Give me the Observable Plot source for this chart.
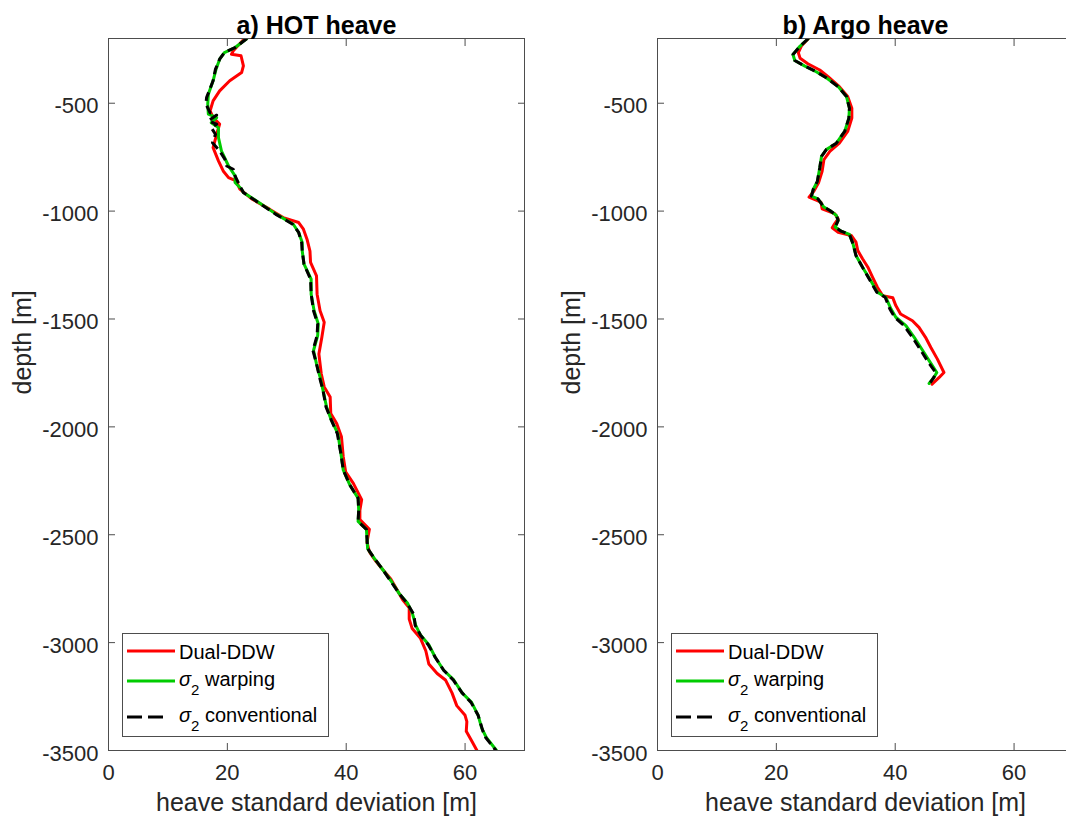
<!DOCTYPE html>
<html>
<head>
<meta charset="utf-8">
<script src="https://cdn.jsdelivr.net/npm/d3@7"></script>
<script src="https://cdn.jsdelivr.net/npm/@observablehq/plot@0.6"></script>
<style>
  html, body { margin: 0; padding: 0; background: #fff; }
  #wrap { position: relative; width: 1066px; height: 825px; overflow: hidden; background: #fff; }
  .panel { position: absolute; top: 0; width: 540px; height: 825px; }
  .panel svg { max-width: none !important; width: 540px; height: 825px; }
  .legend { position: absolute; top: 633px; width: 207px; height: 104px; }
</style>
</head>
<body>
<div id="wrap">
  <div id="p1" class="panel" style="left:0px"></div>
  <div id="p2" class="panel" style="left:549px"></div>
  <div id="l1" class="legend" style="left:122px"></div>
  <div id="l2" class="legend" style="left:671px"></div>
</div>
<script>
// ---------------- data: [depth (m), heave standard deviation (m)] ----------------
const hotDualDDW = [[-200,22.9],[-257,21.0],[-273,20.7],[-280,22.3],[-327,22.7],[-358,22.4],[-396,20.4],[-443,18.7],[-489,17.6],[-535,17.1],[-567,17.6],[-597,18.7],[-644,18.2],[-706,17.6],[-767,18.5],[-814,19.3],[-845,20.2],[-860,21.5],[-898,22.1],[-945,24.2],[-991,27.1],[-1030,29.4],[-1053,32.0],[-1084,32.8],[-1130,33.4],[-1185,33.9],[-1238,34.0],[-1300,35.0],[-1385,35.1],[-1462,35.6],[-1515,36.3],[-1585,35.9],[-1662,35.4],[-1754,35.8],[-1815,36.3],[-1862,37.3],[-1938,37.4],[-1985,38.4],[-2046,39.2],[-2138,39.5],[-2208,39.9],[-2262,41.2],[-2338,42.6],[-2386,42.3],[-2430,42.3],[-2475,43.9],[-2534,43.5],[-2579,43.9],[-2623,45.0],[-2660,46.1],[-2705,47.5],[-2757,48.6],[-2802,49.5],[-2839,50.6],[-2891,50.6],[-2935,51.1],[-2980,52.5],[-3039,53.4],[-3099,53.9],[-3143,55.3],[-3173,56.7],[-3233,57.8],[-3292,58.6],[-3337,60.0],[-3366,60.3],[-3411,60.2],[-3455,61.1],[-3500,62.0]];
const hotSigma2Warping = [[-200,23.3],[-242,21.3],[-265,19.5],[-296,18.7],[-342,18.1],[-396,17.6],[-458,16.8],[-504,16.7],[-551,16.8],[-567,18.2],[-590,17.3],[-613,18.5],[-659,18.5],[-721,19.0],[-791,20.2],[-837,21.3],[-867,21.3],[-899,22.4],[-914,22.7],[-960,25.3],[-1014,28.2],[-1061,31.1],[-1099,32.0],[-1146,32.6],[-1185,32.6],[-1246,32.9],[-1315,34.1],[-1385,34.1],[-1462,34.6],[-1523,35.3],[-1577,35.2],[-1646,34.5],[-1708,35.0],[-1769,35.6],[-1831,36.1],[-1908,36.7],[-1969,37.5],[-2031,38.6],[-2123,39.1],[-2200,39.5],[-2269,40.6],[-2331,42.0],[-2386,42.1],[-2438,42.0],[-2475,43.4],[-2564,43.6],[-2608,44.7],[-2660,46.1],[-2712,47.5],[-2772,48.9],[-2816,50.3],[-2861,51.1],[-2920,51.7],[-2965,52.5],[-3010,53.9],[-3069,55.0],[-3128,56.4],[-3173,58.1],[-3233,59.5],[-3277,61.1],[-3337,62.2],[-3396,62.8],[-3441,63.6],[-3500,65.3]];
const hotSigma2Conventional = [[-200,23.3],[-242,21.3],[-265,19.5],[-296,18.7],[-342,18.0],[-396,17.6],[-474,16.5],[-504,16.4],[-545,17.1],[-555,18.2],[-582,16.8],[-597,18.2],[-613,17.3],[-644,18.0],[-683,17.5],[-721,18.7],[-760,19.6],[-791,19.9],[-806,21.0],[-837,21.3],[-883,22.1],[-914,22.7],[-960,25.2],[-1014,28.1],[-1061,31.0],[-1099,32.0],[-1146,32.5],[-1185,32.6],[-1246,32.9],[-1315,34.0],[-1385,34.1],[-1462,34.5],[-1523,35.2],[-1577,35.1],[-1646,34.4],[-1708,35.0],[-1769,35.5],[-1831,36.1],[-1908,36.6],[-1969,37.5],[-2031,38.5],[-2123,39.1],[-2200,39.5],[-2269,40.6],[-2331,42.0],[-2386,42.1],[-2438,42.0],[-2475,43.4],[-2564,43.6],[-2608,44.7],[-2660,46.1],[-2712,47.4],[-2772,48.9],[-2816,50.2],[-2870,51.4],[-2920,51.6],[-2965,52.5],[-3010,53.8],[-3069,55.0],[-3128,56.4],[-3173,58.0],[-3233,59.5],[-3277,61.0],[-3337,62.2],[-3410,63.0],[-3441,63.5],[-3500,65.2]];

const argoDualDDW = [[-200,25.4],[-235,24.2],[-266,23.7],[-292,24.0],[-317,25.3],[-346,27.3],[-377,28.7],[-423,30.6],[-469,32.0],[-523,32.7],[-569,32.7],[-631,32.0],[-685,30.6],[-723,29.0],[-762,28.0],[-815,27.7],[-869,27.1],[-908,26.3],[-935,25.5],[-947,26.5],[-958,27.5],[-989,27.7],[-1000,28.7],[-1012,29.8],[-1036,30.4],[-1059,29.8],[-1077,29.4],[-1098,30.4],[-1113,32.6],[-1144,33.4],[-1183,33.7],[-1221,34.5],[-1260,35.4],[-1307,36.2],[-1353,37.0],[-1392,37.9],[-1402,39.6],[-1438,40.1],[-1477,40.9],[-1508,42.9],[-1539,44.0],[-1585,45.1],[-1632,46.0],[-1686,47.1],[-1748,48.2],[-1771,47.4],[-1802,46.2]];
const argoSigma2Warping = [[-200,25.4],[-235,24.0],[-274,22.8],[-302,23.1],[-328,24.8],[-354,26.7],[-382,28.4],[-423,30.4],[-469,31.8],[-523,32.3],[-569,32.2],[-631,31.5],[-685,30.1],[-715,28.4],[-746,27.6],[-800,27.3],[-862,26.9],[-900,26.2],[-931,25.9],[-943,27.0],[-981,28.0],[-997,29.0],[-1020,30.1],[-1043,30.4],[-1074,29.9],[-1093,30.9],[-1108,32.3],[-1152,32.9],[-1206,33.4],[-1260,34.5],[-1314,35.7],[-1376,37.0],[-1399,38.4],[-1454,39.3],[-1492,40.1],[-1531,41.8],[-1585,43.2],[-1632,44.3],[-1693,45.7],[-1748,47.0],[-1771,46.5],[-1799,45.7]];
const argoSigma2Conventional = [[-200,25.4],[-235,24.0],[-274,22.8],[-302,23.1],[-328,24.8],[-354,26.7],[-382,28.4],[-423,30.4],[-469,31.8],[-523,32.3],[-569,32.2],[-631,31.5],[-685,30.1],[-715,28.4],[-746,27.6],[-800,27.3],[-862,26.9],[-900,26.2],[-931,25.9],[-943,27.0],[-981,28.0],[-997,29.0],[-1020,30.1],[-1043,30.4],[-1074,29.9],[-1093,30.9],[-1108,32.3],[-1152,32.9],[-1206,33.4],[-1260,34.5],[-1314,35.6],[-1376,36.9],[-1399,38.3],[-1454,39.1],[-1492,39.9],[-1531,41.5],[-1585,42.9],[-1632,44.0],[-1693,45.4],[-1748,46.8],[-1771,46.5],[-1795,45.9]];

// ---------------- axes / text ----------------
const xDomain = [0, 70];
const yDomain = [-3500, -200];
const xTicks = [0, 20, 40, 60];
const yTicks = [-3500, -3000, -2500, -2000, -1500, -1000, -500];
const panelTitles = ["a) HOT heave", "b) Argo heave"];
const xLabel = "heave standard deviation [m]";
const yLabel = "depth [m]";
const seriesNames = ["Dual-DDW", "warping", "conventional"];

const RED = "#ff0000", GREEN = "#00cc00", BLACK = "#000000";
const AXIS = "#4d4d4d", TEXT = "#262626";
const FONT = '"Liberation Sans", Arial, Helvetica, sans-serif';

function panel(title, dual, warp, conv) {
  const X = d => d[1], Y = d => d[0];
  return Plot.plot({
    width: 540, height: 825,
    marginLeft: 108, marginRight: 16, marginTop: 38, marginBottom: 75,
    style: {fontFamily: FONT, fontSize: "22px", color: TEXT, background: "transparent", overflow: "visible", maxWidth: "none"},
    x: {domain: xDomain, axis: null},
    y: {domain: yDomain, axis: null},
    marks: [
      Plot.line(dual, {x: X, y: Y, stroke: RED, strokeWidth: 3, clip: true}),
      Plot.line(warp, {x: X, y: Y, stroke: GREEN, strokeWidth: 3, clip: true}),
      Plot.line(conv, {x: X, y: Y, stroke: BLACK, strokeWidth: 3, strokeDasharray: "9,5", strokeLinecap: "butt", clip: true}),
      Plot.frame({stroke: AXIS, strokeWidth: 1}),
      Plot.axisX(xTicks, {anchor: "bottom", tickSize: -7, fill: "none", stroke: AXIS, label: null}),
      Plot.axisX(xTicks, {anchor: "top", tickSize: -7, fill: "none", stroke: AXIS, label: null}),
      Plot.axisX(xTicks, {anchor: "bottom", tickSize: 0, tickPadding: 14, label: null, fontSize: 22, fill: TEXT, tickFormat: d => String(d)}),
      Plot.axisY(yTicks, {anchor: "left", tickSize: -7, fill: "none", stroke: AXIS, label: null}),
      Plot.axisY(yTicks, {anchor: "right", tickSize: -7, fill: "none", stroke: AXIS, label: null}),
      Plot.axisY(yTicks, {anchor: "left", tickSize: 0, tickPadding: 10, dy: 3, label: null, fontSize: 22, fill: TEXT, tickFormat: d => String(d)}),
      Plot.text([title], {text: d => d, frameAnchor: "top", dy: -22, fontWeight: "bold", fontSize: 25, fill: "#000"}),
      Plot.text([xLabel], {text: d => d, frameAnchor: "bottom", dy: 60, fontSize: 25, fill: TEXT}),
      Plot.text([yLabel], {text: d => d, frameAnchor: "left", dx: -86, rotate: -90, fontSize: 25, fill: TEXT})
    ]
  });
}

function legend() {
  const svg = d3.create("svg").attr("width", 207).attr("height", 104)
    .style("font-family", FONT).style("font-size", "20px").style("display", "block");
  svg.append("rect").attr("x", 0.5).attr("y", 0.5).attr("width", 206).attr("height", 103)
    .attr("fill", "#fff").attr("stroke", AXIS).attr("stroke-width", 1);
  const rows = [
    {color: RED, dash: null, y: 18, base: 26, sigma: false, text: seriesNames[0], x2: 53},
    {color: GREEN, dash: null, y: 48, base: 53, sigma: true, text: seriesNames[1], x2: 53},
    {color: BLACK, dash: "15,6", y: 84, base: 89, sigma: true, text: seriesNames[2], x2: 42}
  ];
  for (const r of rows) {
    const ln = svg.append("line").attr("x1", 5).attr("x2", r.x2).attr("y1", r.y).attr("y2", r.y)
      .attr("stroke", r.color).attr("stroke-width", 3);
    if (r.dash) ln.attr("stroke-dasharray", r.dash);
    const t = svg.append("text").attr("x", 57).attr("y", r.base).attr("fill", "#000");
    if (r.sigma) {
      t.append("tspan").attr("font-style", "italic").text("σ");
      t.append("tspan").attr("dy", 9).attr("font-size", 15).text("2");
      t.append("tspan").attr("dy", -9).text(" " + r.text);
    } else {
      t.text(r.text);
    }
  }
  return svg.node();
}

document.getElementById("p1").appendChild(panel(panelTitles[0], hotDualDDW, hotSigma2Warping, hotSigma2Conventional));
document.getElementById("p2").appendChild(panel(panelTitles[1], argoDualDDW, argoSigma2Warping, argoSigma2Conventional));
document.getElementById("l1").appendChild(legend());
document.getElementById("l2").appendChild(legend());
</script>
</body>
</html>
